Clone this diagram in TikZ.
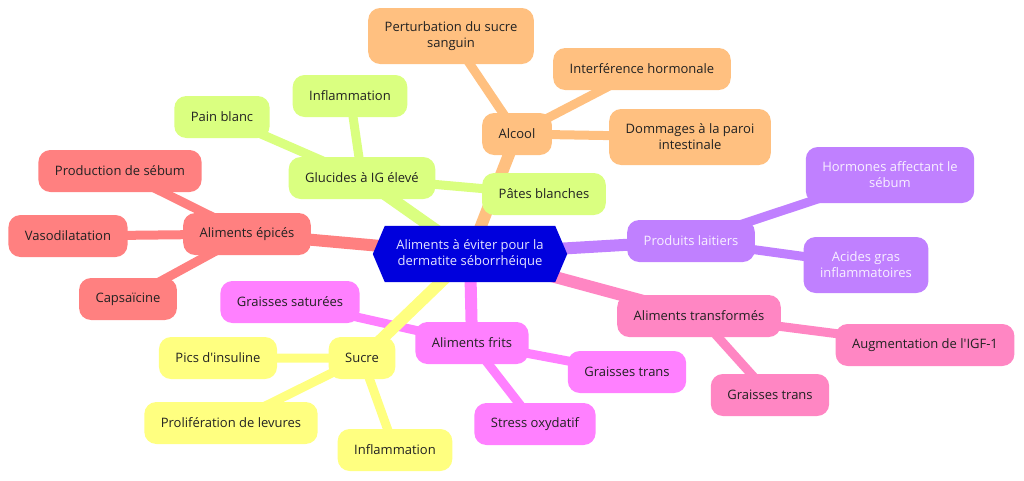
\documentclass[tikz,border=0pt]{standalone}
\usepackage{fontspec}
\setmainfont{Open Sans}[Ligatures=TeXOff]
\usetikzlibrary{backgrounds}
\definecolor{cRoot}{HTML}{0000DD}
\definecolor{cRootTxt}{HTML}{E4E4FF}
\definecolor{cOrange}{HTML}{FFC080}
\definecolor{cGreen}{HTML}{DAFF80}
\definecolor{cRed}{HTML}{FF8080}
\definecolor{cPurple}{HTML}{C080FF}
\definecolor{cPurpleTxt}{HTML}{F8F0FF}
\definecolor{cMagenta}{HTML}{FF80FF}
\definecolor{cPink}{HTML}{FF86C3}
\definecolor{cYellow}{HTML}{FFFF80}
\definecolor{cTxt}{HTML}{222222}
\begin{document}
\begin{tikzpicture}[x=1pt,y=-1pt,
  box/.style={rounded corners=12pt, inner xsep=16.5pt, inner ysep=4pt, minimum height=42pt,
    align=center, font=\fontsize{13}{16}\selectfont, text=cTxt},
  tall/.style={minimum height=56pt},
  orangebox/.style={box, fill=cOrange},
  greenbox/.style={box, fill=cGreen},
  redbox/.style={box, fill=cRed},
  purplebox/.style={box, fill=cPurple, text=cPurpleTxt},
  magentabox/.style={box, fill=cMagenta},
  pinkbox/.style={box, fill=cPink},
  yellowbox/.style={box, fill=cYellow},
  edgeone/.style={line width=12pt},
  edgetwo/.style={line width=9pt}]
\useasboundingbox (0,0) rectangle (1024,480);

% root
\node[align=center, font=\fontsize{13}{16}\selectfont, text=cRootTxt, inner sep=0pt,
  minimum width=194pt, minimum height=56pt] (root) at (470,254) {Aliments à éviter pour la\\dermatite séborrhéique};

% orange
\node[orangebox] (alcool) at (517,134) {Alcool};
\node[orangebox, tall] (pert) at (451,36) {Perturbation du sucre\\sanguin};
\node[orangebox] (interf) at (642,69) {Interférence hormonale};
\node[orangebox, tall] (domm) at (690,137) {Dommages à la paroi\\intestinale};

% green
\node[greenbox] (gluc) at (362,178) {Glucides à IG élevé};
\node[greenbox] (pain) at (222,117) {Pain blanc};
\node[greenbox] (inflA) at (350,96) {Inflammation};
\node[greenbox] (pates) at (544,194) {Pâtes blanches};

% red
\node[redbox] (epic) at (247,234) {Aliments épicés};
\node[redbox] (prod) at (120,171) {Production de sébum};
\node[redbox] (vaso) at (68,236) {Vasodilatation};
\node[redbox] (caps) at (128,299) {Capsaïcine};

% purple
\node[purplebox] (lait) at (691,241) {Produits laitiers};
\node[purplebox, tall] (horm) at (890,175) {Hormones affectant le\\sébum};
\node[purplebox, tall] (acides) at (866,265) {Acides gras\\inflammatoires};

% magenta
\node[magentabox] (frits) at (472,343) {Aliments frits};
\node[magentabox] (gsat) at (290,302) {Graisses saturées};
\node[magentabox] (gtransA) at (627,372) {Graisses trans};
\node[magentabox] (stress) at (535,424) {Stress oxydatif};

% pink
\node[pinkbox] (transf) at (699,316) {Aliments transformés};
\node[pinkbox] (igf) at (925,345) {Augmentation de l'IGF-1};
\node[pinkbox] (gtransB) at (770,395) {Graisses trans};

% yellow
\node[yellowbox] (sucre) at (362,358) {Sucre};
\node[yellowbox] (pics) at (218,358) {Pics d'insuline};
\node[yellowbox] (prolif) at (231,423) {Prolifération de levures};
\node[yellowbox] (inflB) at (395,450) {Inflammation};

\begin{pgfonlayer}{background}
  % second level edges
  \draw[edgetwo, cOrange] (alcool.center) -- (pert.center) (alcool.center) -- (interf.center) (alcool.center) -- (domm.center);
  \draw[edgetwo, cGreen] (gluc.center) -- (pain.center) (gluc.center) -- (inflA.center) (gluc.center) -- (pates.center);
  \draw[edgetwo, cRed] (epic.center) -- (prod.center) (epic.center) -- (vaso.center) (epic.center) -- (caps.center);
  \draw[edgetwo, cPurple] (lait.center) -- (horm.center) (lait.center) -- (acides.center);
  \draw[edgetwo, cMagenta] (frits.center) -- (gsat.center) (frits.center) -- (gtransA.center) (frits.center) -- (stress.center);
  \draw[edgetwo, cPink] (transf.center) -- (igf.center) (transf.center) -- (gtransB.center);
  \draw[edgetwo, cYellow] (sucre.center) -- (pics.center) (sucre.center) -- (prolif.center) (sucre.center) -- (inflB.center);
  % first level edges
  \draw[edgeone, cOrange] (root.center) -- (alcool.center);
  \draw[edgeone, cGreen] (root.center) -- (gluc.center);
  \draw[edgeone, cRed] (root.center) -- (epic.center);
  \draw[edgeone, cPurple] (root.center) -- (lait.center);
  \draw[edgeone, cMagenta] (root.center) -- (frits.center);
  \draw[edgeone, cPink] (root.center) -- (transf.center);
  \draw[edgeone, cYellow] (root.center) -- (sucre.center);
  % root hexagon
  \fill[cRoot] (root.west) -- ([xshift=12pt]root.north west) -- ([xshift=-12pt]root.north east)
    -- (root.east) -- ([xshift=-12pt]root.south east) -- ([xshift=12pt]root.south west) -- cycle;
\end{pgfonlayer}
\end{tikzpicture}
\end{document}
